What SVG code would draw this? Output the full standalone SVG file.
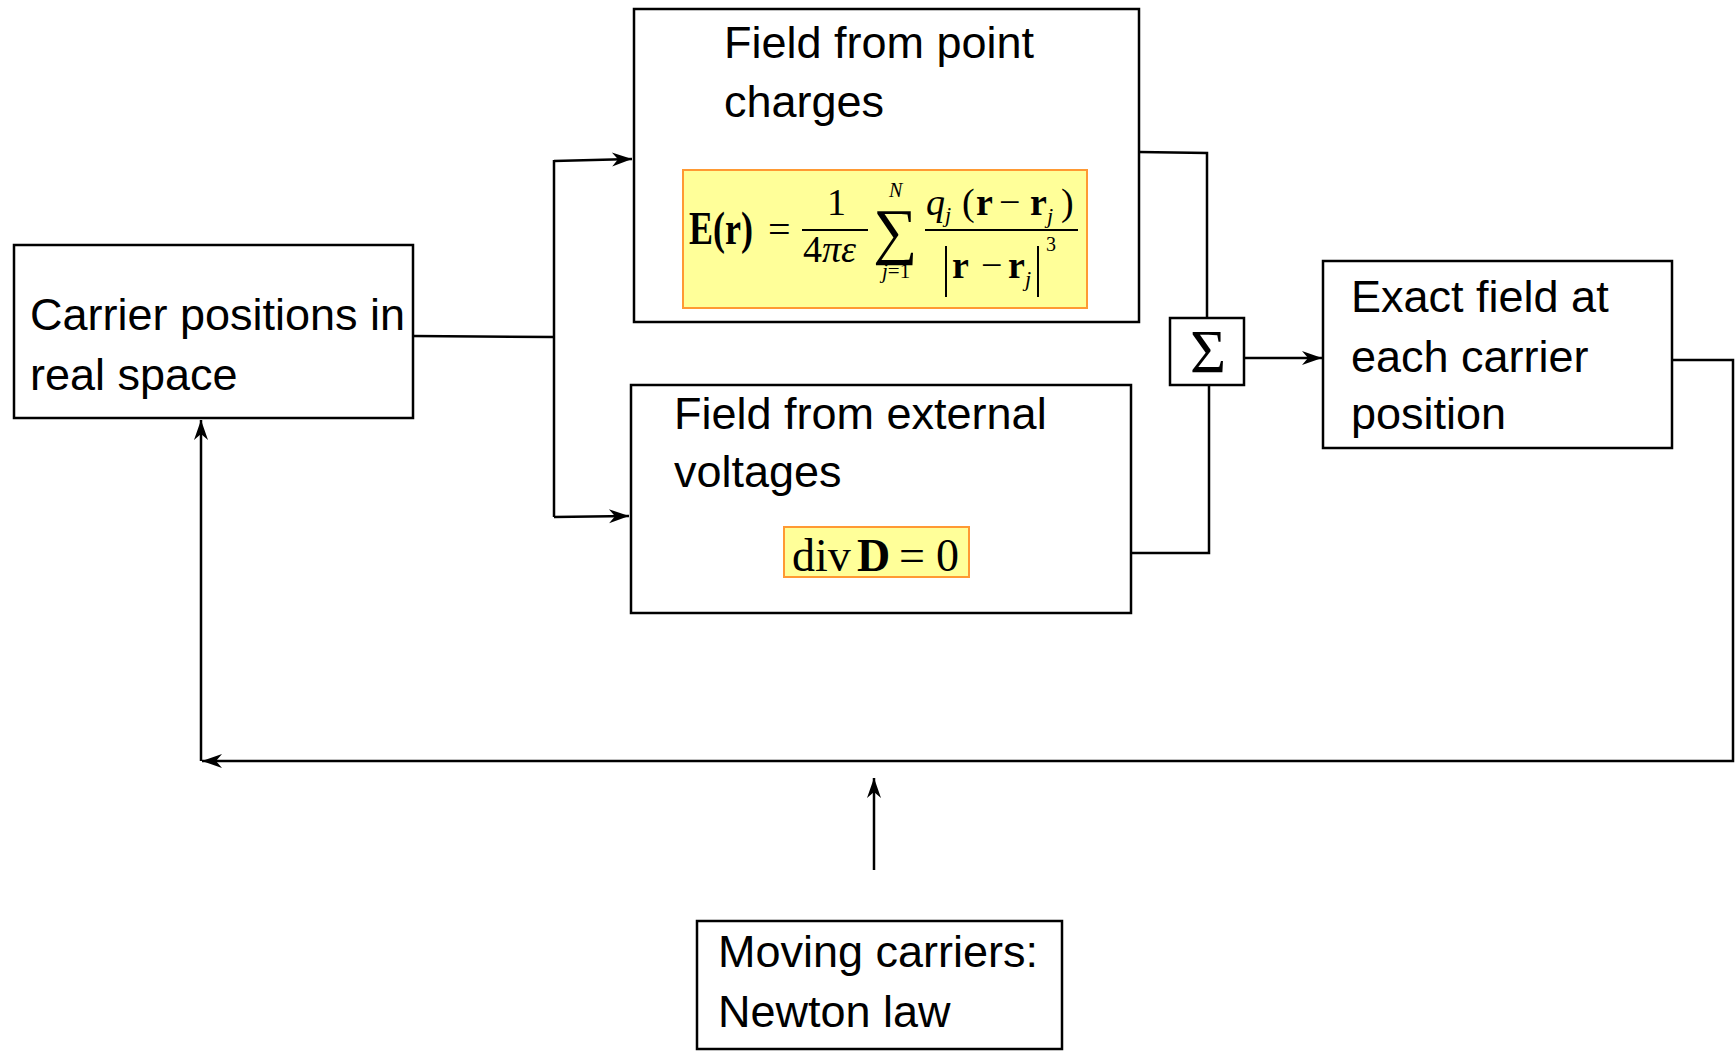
<svg xmlns="http://www.w3.org/2000/svg" width="1736" height="1051" viewBox="0 0 1736 1051">
<style>
.box{fill:#fff;stroke:#000;stroke-width:2.5}
.lbl{font-family:"Liberation Sans",Arial,sans-serif;font-size:45px;fill:#000}
.fbox{fill:#ffff99;stroke:#ff9933;stroke-width:2}
.m{font-family:"Liberation Serif","Times New Roman",serif;fill:#000}
.b{font-weight:bold}
.i{font-style:italic}
.c{fill:none;stroke:#000;stroke-width:2.5}
.fl{stroke:#000;stroke-width:2}
</style>
<defs>
<marker id="ah" markerUnits="userSpaceOnUse" markerWidth="30" markerHeight="20" viewBox="-22 -10 24 20" refX="0" refY="0" orient="auto">
<path d="M0,0 L-20,-7 L-14,0 L-20,7 Z" fill="#000"/>
</marker>
</defs>
<rect width="1736" height="1051" fill="#fff"/>
<g id="connectors">
<path class="c" d="M413,336 L554,337"/>
<path class="c" d="M554,160 L554,517"/>
<path class="c" d="M554,161 L632,159" marker-end="url(#ah)"/>
<path class="c" d="M554,517 L629,516" marker-end="url(#ah)"/>
<path class="c" d="M1139,152 L1207,153 L1207,318"/>
<path class="c" d="M1131,553 L1209,553 L1209,385"/>
<path class="c" d="M1244,358 L1322,358" marker-end="url(#ah)"/>
<path class="c" d="M1672,360 L1733,360 L1733,761 L202,761" marker-end="url(#ah)"/>
<path class="c" d="M201,761 L201,420" marker-end="url(#ah)"/>
<path class="c" d="M874,870 L874,778" marker-end="url(#ah)"/>
</g>
<g id="carrier">
<rect class="box" x="14" y="245" width="399" height="173"/>
<text class="lbl" x="30" y="330">Carrier positions in</text>
<text class="lbl" x="30" y="390">real space</text>
</g>
<g id="pointcharges">
<rect class="box" x="634" y="9" width="505" height="313"/>
<text class="lbl" x="724" y="58">Field from point</text>
<text class="lbl" x="724" y="117">charges</text>
<rect class="fbox" x="683" y="170" width="404" height="138"/>
<g class="m">
<text class="b" x="689" y="244" font-size="46" textLength="64" lengthAdjust="spacingAndGlyphs">E(r)</text>
<text x="768" y="243" font-size="40">=</text>
<text x="827" y="215" font-size="38">1</text>
<line class="fl" x1="802" y1="230" x2="868" y2="230"/>
<text x="803" y="262" font-size="38">4<tspan class="i">πε</tspan></text>
<text x="873" y="252" font-size="62">∑</text>
<text class="i" x="889" y="197" font-size="20">N</text>
<text x="882" y="278" font-size="21"><tspan class="i">j</tspan>=1</text>
<text x="926" y="215" font-size="38"><tspan class="i">q</tspan><tspan class="i" font-size="22" dy="7">j</tspan><tspan dy="-7" x="962">(</tspan><tspan class="b" x="976">r</tspan><tspan x="999">−</tspan><tspan class="b" x="1030">r</tspan><tspan class="i" font-size="22" dy="8">j</tspan><tspan dy="-8" x="1061">)</tspan></text>
<line class="fl" x1="925" y1="230" x2="1078" y2="230"/>
<line class="fl" x1="946" y1="246" x2="946" y2="297"/>
<text x="952" y="278" font-size="38"><tspan class="b">r</tspan><tspan x="981">−</tspan><tspan class="b" x="1008">r</tspan><tspan class="i" font-size="22" dy="8">j</tspan></text>
<line class="fl" x1="1038" y1="246" x2="1038" y2="297"/>
<text x="1046" y="251" font-size="20">3</text>
</g>
</g>
<g id="externalvoltages">
<rect class="box" x="631" y="385" width="500" height="228"/>
<text class="lbl" x="674" y="429">Field from external</text>
<text class="lbl" x="674" y="487">voltages</text>
<rect class="fbox" x="784" y="527" width="185" height="50"/>
<text class="m" x="792" y="571" font-size="46">div<tspan class="b" x="857">D</tspan><tspan x="899">=</tspan><tspan x="936">0</tspan></text>
</g>
<g id="sum">
<rect class="box" x="1170" y="318" width="74" height="67"/>
<text class="m" x="1190" y="372" font-size="62">Σ</text>
</g>
<g id="exactfield">
<rect class="box" x="1323" y="261" width="349" height="187"/>
<text class="lbl" x="1351" y="312">Exact field at</text>
<text class="lbl" x="1351" y="372">each carrier</text>
<text class="lbl" x="1351" y="429">position</text>
</g>
<g id="moving">
<rect class="box" x="697" y="921" width="365" height="128"/>
<text class="lbl" x="718" y="967">Moving carriers:</text>
<text class="lbl" x="718" y="1027">Newton law</text>
</g>
</svg>
